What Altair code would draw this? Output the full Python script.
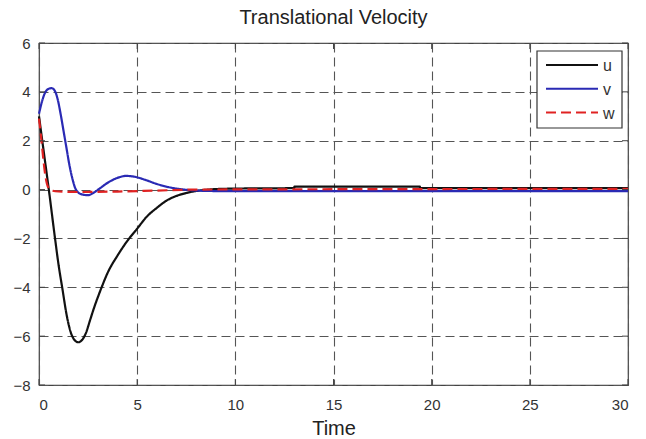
import altair as alt
import pandas as pd

# --- series values (time in s) ---
t_u = [0, 0.25, 0.5, 0.8, 1.0, 1.2, 1.4, 1.6, 1.8, 2.0, 2.2, 2.4, 2.6, 2.8, 3.0,
       3.2, 3.5, 4.0, 4.5, 5.0, 5.5, 6.0, 6.5, 7.0, 7.5, 8.0, 8.5, 9.0, 10.0,
       13.0, 13.01, 19.4, 19.41, 30.0]
u = [3.0, 1.5, 0.0, -1.9, -3.1, -4.1, -5.1, -5.8, -6.15, -6.25, -6.15, -5.85,
     -5.35, -4.85, -4.4, -3.98, -3.4, -2.7, -2.1, -1.6, -1.1, -0.75, -0.45,
     -0.26, -0.14, -0.06, -0.01, 0.02, 0.04, 0.06, 0.12, 0.12, 0.06, 0.06]

t_v = [0, 0.15, 0.3, 0.5, 0.65, 0.8, 0.95, 1.1, 1.25, 1.4, 1.55, 1.7, 1.85,
       2.0, 2.2, 2.5, 2.8, 3.1, 3.5, 4.0, 4.45, 4.9, 5.4, 6.0, 6.6, 7.2, 8.0,
       9.0, 30.0]
v = [3.1, 3.6, 3.95, 4.13, 4.15, 4.05, 3.7, 3.1, 2.4, 1.7, 1.0, 0.45, 0.05,
     -0.12, -0.2, -0.23, -0.12, 0.05, 0.28, 0.48, 0.56, 0.52, 0.4, 0.23, 0.1,
     0.02, -0.04, -0.06, -0.06]

t_w = [0, 0.1, 0.2, 0.3, 0.4, 0.5, 0.7, 1.0, 2.0, 4.0, 6.0, 8.0, 30.0]
w = [2.9, 2.2, 1.4, 0.7, 0.25, 0.05, -0.05, -0.08, -0.1, -0.08, -0.04, 0.0, 0.03]

series_names = ["u", "v", "w"]
series_colors = ["#111111", "#2a2ab4", "#e02222"]
series_dash = [[1, 0], [1, 0], [10, 5]]

x_ticks = [0, 5, 10, 15, 20, 25, 30]
y_ticks = [-8, -6, -4, -2, 0, 2, 4, 6]

W, H = 589, 342
FONT = "Liberation Sans"

df = pd.concat([
    pd.DataFrame({"t": t_u, "value": u, "series": "u"}),
    pd.DataFrame({"t": t_v, "value": v, "series": "v"}),
    pd.DataFrame({"t": t_w, "value": w, "series": "w"}),
], ignore_index=True)
df["order"] = df.index

x_scale = alt.Scale(domain=[0, 30], nice=False, zero=False)
y_scale = alt.Scale(domain=[-8, 6], nice=False, zero=False)

lines = alt.Chart(df).mark_line(strokeWidth=2.2, interpolate="monotone").encode(
    x=alt.X("t:Q", scale=x_scale, title="Time",
            axis=alt.Axis(values=x_ticks, grid=True, tickSize=0,
                          labelPadding=12, titlePadding=6, domain=False)),
    y=alt.Y("value:Q", scale=y_scale, title=None,
            axis=alt.Axis(values=y_ticks, grid=True, tickSize=0,
                          labelPadding=9, domain=False)),
    color=alt.Color("series:N", scale=alt.Scale(domain=series_names, range=series_colors),
                    legend=None),
    strokeDash=alt.StrokeDash("series:N", scale=alt.Scale(domain=series_names, range=series_dash),
                              legend=None),
    order="order:Q",
)

# inward tick marks on all four sides
xt = pd.DataFrame({"t": x_ticks})
yt = pd.DataFrame({"value": y_ticks})
tick_style = dict(color="#444444", strokeWidth=1)
ticks_bottom = alt.Chart(xt).mark_rule(**tick_style).encode(
    x=alt.X("t:Q", scale=x_scale), y=alt.value(H), y2=alt.value(H - 6))
ticks_top = alt.Chart(xt).mark_rule(**tick_style).encode(
    x=alt.X("t:Q", scale=x_scale), y=alt.value(0), y2=alt.value(6))
ticks_left = alt.Chart(yt).mark_rule(**tick_style).encode(
    y=alt.Y("value:Q", scale=y_scale), x=alt.value(0), x2=alt.value(6))
ticks_right = alt.Chart(yt).mark_rule(**tick_style).encode(
    y=alt.Y("value:Q", scale=y_scale), x=alt.value(W), x2=alt.value(W - 6))

# boxed legend in the upper right corner of the axes
box_l, box_r, box_t, box_b = 498, 583, 8, 85
row_y0, row_step = 22, 23.8
legend_box = alt.Chart(pd.DataFrame({"series": series_names[:1]})).mark_rect(
    fill="white", stroke="#333333", strokeWidth=1.2
).encode(x=alt.value(box_l), x2=alt.value(box_r), y=alt.value(box_t), y2=alt.value(box_b))

legend_layers = [legend_box]
for i, (name, col, dash) in enumerate(zip(series_names, series_colors, series_dash)):
    ry = row_y0 + i * row_step
    entry = pd.DataFrame({"series": [name]})
    legend_layers.append(
        alt.Chart(entry).mark_rule(color=col, strokeWidth=2, strokeDash=dash).encode(
            x=alt.value(507), x2=alt.value(559), y=alt.value(ry))
    )
    legend_layers.append(
        alt.Chart(entry).mark_text(align="left", baseline="middle", font=FONT,
                                   fontSize=16, color="#333333").encode(
            text="series:N", x=alt.value(564), y=alt.value(ry + 1))
    )

chart = alt.layer(lines, ticks_bottom, ticks_top, ticks_left, ticks_right,
                  *legend_layers).properties(
    width=W, height=H,
    background="white",
    title=alt.Title("Translational Velocity", fontSize=20, font=FONT,
                    fontWeight="normal", color="#222222", offset=8),
    autosize=alt.AutoSizeParams(type="none"),
    padding={"left": 39, "top": 43, "right": 18, "bottom": 54},
).configure_view(
    stroke="#444444", strokeWidth=1.2,
).configure_axis(
    gridColor="#555555", gridDash=[9, 5], gridWidth=1.1, gridOpacity=1,
    labelFont=FONT, labelFontSize=15, labelColor="#333333",
    titleFont=FONT, titleFontSize=20, titleFontWeight="normal", titleColor="#222222",
)

chart.save("out.html", embed_options={"renderer": "svg", "actions": False})
